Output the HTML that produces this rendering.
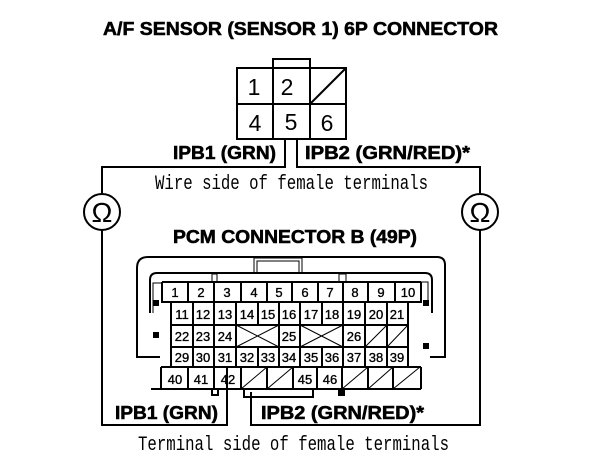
<!DOCTYPE html>
<html><head><meta charset="utf-8"><style>
html,body{margin:0;padding:0;background:#fff}
svg{display:block}
text{fill:#000}
.h{font:bold 18px "Liberation Sans",sans-serif;stroke:#000;stroke-width:.55}
.m{font:20px "Liberation Mono",monospace}
.t{font:23px "Liberation Sans",sans-serif;text-anchor:middle}
.n{font:13px "Liberation Sans",sans-serif;text-anchor:middle;stroke:#000;stroke-width:.35}
.l{fill:none;stroke:#000;stroke-width:1}
.b{fill:none;stroke:#000;stroke-width:2}
</style></head><body>
<svg width="608" height="472" viewBox="0 0 608 472" xmlns="http://www.w3.org/2000/svg">
<text class="h" x="103" y="35" textLength="395" lengthAdjust="spacingAndGlyphs">A/F SENSOR (SENSOR 1) 6P CONNECTOR</text>

<g class="b">
<path d="M237 68H346V139H237ZM237 104H346M273 68V139M310 68V139M273 68V59H310V68"/>
<path d="M310 104L346 68"/>
<path d="M285 139V167H102V193M102 230V425H227V368"/>
<path d="M297 139V167H480V193M480 230V425H251V392"/>
<circle cx="102" cy="212" r="18"/>
<circle cx="480" cy="212" r="18"/>
</g>
<text class="t" x="254" y="95">1</text>
<text class="t" x="287" y="95">2</text>
<text class="t" x="255" y="131">4</text>
<text class="t" x="291" y="130">5</text>
<text class="t" x="327" y="131">6</text>
<text x="102" y="222" style="font:28px 'Liberation Sans',sans-serif;text-anchor:middle">Ω</text>
<text x="480" y="222" style="font:28px 'Liberation Sans',sans-serif;text-anchor:middle">Ω</text>

<text class="h" x="173" y="159" textLength="103" lengthAdjust="spacingAndGlyphs">IPB1 (GRN)</text>
<text class="h" x="305" y="159" textLength="165" lengthAdjust="spacingAndGlyphs">IPB2 (GRN/RED)*</text>
<text class="m" x="155" y="189" textLength="273" lengthAdjust="spacingAndGlyphs">Wire side of female terminals</text>
<text class="h" x="173" y="243" textLength="244" lengthAdjust="spacingAndGlyphs">PCM CONNECTOR B (49P)</text>

<!-- shell -->
<path class="b" d="M160 357H137V268Q137 257 148 257H437Q445 257 445 265V357H430"/>
<path class="b" d="M150 313V280Q150 273 157 273H425Q432 273 432 280V313"/>
<path class="l" d="M153 313V283H162M421 282H428V300M254 273V258H302V273M257 273V261H299V273"/>
<path class="b" d="M151 389H421M162 282H421"/>
<rect x="153" y="300" width="6" height="6"/>
<rect x="153" y="332" width="6" height="6"/>
<rect x="423" y="300" width="6" height="6"/>
<rect x="423" y="343" width="6" height="6"/>
<path class="l" d="M212 274V282H217V274Z M339 274V282H346V274Z"/>
<path class="b" d="M212 390V395H218V390"/>
<rect x="338" y="389" width="7" height="7"/>
<path class="b" d="M244 390V397H313V390"/>

<!-- grid -->
<g class="b">
<path d="M162 282V302H421V282M171 302V367M408 302V367M161 367H421M161 367V389M421 367V389"/>
<path d="M171 325H408M171 347H408"/>
<path d="M188 282V302M214 282V302M241 282V302M267 282V302M292 282V302M318 282V302M343 282V302M368 282V302M395 282V302"/>
<path d="M193 302V367M214 302V367M236 302V367M258 302V325M279 302V367M300 302V367M322 302V325M343 302V367M365 302V367M387 302V367"/>
<path d="M258 347V367M322 347V367"/>
<path d="M188 367V389M214 367V389M241 367V389M267 367V389M293 367V389M317 367V389M342 367V389M368 367V389M393 367V389"/>
</g>
<g class="l">
<path d="M236 325L279 347M279 325L236 347M300 325L343 347M343 325L300 347"/>
<path d="M365 347L387 325M387 347L408 325"/>
<path d="M241 389L267 367M267 389L293 367M342 389L368 367M368 389L393 367M393 389L420 367"/>
</g>

<g class="n">
<text x="175" y="297">1</text><text x="201" y="297">2</text><text x="227" y="297">3</text><text x="254" y="297">4</text><text x="279" y="297">5</text><text x="305" y="297">6</text><text x="330" y="297">7</text><text x="355" y="297">8</text><text x="381" y="297">9</text><text x="408" y="297">10</text>
<text x="182" y="319">11</text><text x="203" y="319">12</text><text x="225" y="319">13</text><text x="247" y="319">14</text><text x="268" y="319">15</text><text x="289" y="319">16</text><text x="311" y="319">17</text><text x="332" y="319">18</text><text x="354" y="319">19</text><text x="376" y="319">20</text><text x="397" y="319">21</text>
<text x="182" y="341">22</text><text x="203" y="341">23</text><text x="225" y="341">24</text><text x="289" y="341">25</text><text x="354" y="341">26</text>
<text x="182" y="362">29</text><text x="203" y="362">30</text><text x="225" y="362">31</text><text x="247" y="362">32</text><text x="268" y="362">33</text><text x="289" y="362">34</text><text x="311" y="362">35</text><text x="332" y="362">36</text><text x="354" y="362">37</text><text x="376" y="362">38</text><text x="397" y="362">39</text>
<text x="175" y="384">40</text><text x="201" y="384">41</text><text x="228" y="384">42</text><text x="305" y="384">45</text><text x="330" y="384">46</text>
</g>

<text class="h" x="115" y="419" textLength="103" lengthAdjust="spacingAndGlyphs">IPB1 (GRN)</text>
<text class="h" x="261" y="419" textLength="163" lengthAdjust="spacingAndGlyphs">IPB2 (GRN/RED)*</text>
<text class="m" x="138" y="450" textLength="311" lengthAdjust="spacingAndGlyphs">Terminal side of female terminals</text>
</svg>
</body></html>
